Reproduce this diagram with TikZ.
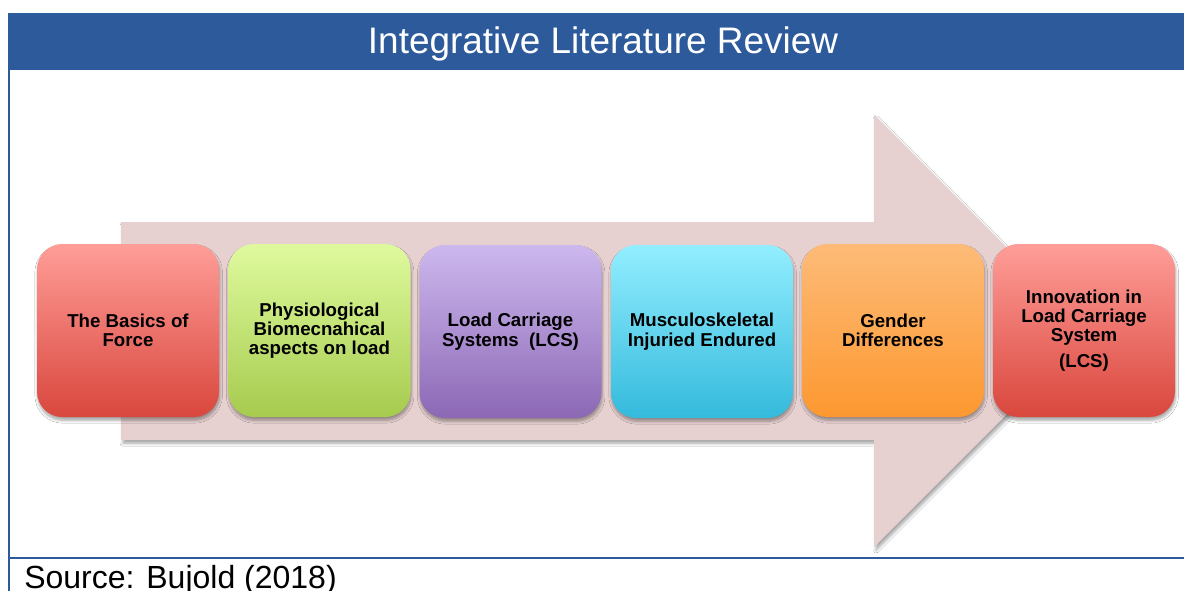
\documentclass[tikz,border=0pt]{standalone}
\usepackage{fontspec}
\setmainfont{Liberation Sans}
\usetikzlibrary{positioning,shadows.blur}
\definecolor{hdrblue}{HTML}{2D5A9B}
\definecolor{bandpink}{HTML}{E6D0D0}
\definecolor{redtop}{HTML}{FF9D98}
\definecolor{redbot}{HTML}{D9473D}
\definecolor{greentop}{HTML}{DFFA9E}
\definecolor{greenbot}{HTML}{A6CB4E}
\definecolor{violettop}{HTML}{CDB8EE}
\definecolor{violetbot}{HTML}{8C68B5}
\definecolor{cyantop}{HTML}{93EEFF}
\definecolor{cyanbot}{HTML}{34BADC}
\definecolor{orangetop}{HTML}{FDBB78}
\definecolor{orangebot}{HTML}{FD9830}

\begin{document}
\begin{tikzpicture}[
    x=0.75pt,y=-0.75pt,
    box/.style={rounded corners=19pt,align=center,minimum width=136.5pt,minimum height=129.75pt,
      font=\fontsize{14}{14.5}\selectfont\bfseries,
      blur shadow={shadow xshift=0.5pt,shadow yshift=-2.5pt,shadow blur steps=6,shadow opacity=35}},
    band/.style={fill=bandpink,
      blur shadow={shadow xshift=1.5pt,shadow yshift=-2.5pt,shadow blur steps=6,shadow opacity=35}},
    frame/.style={draw=hdrblue,line width=1.5pt},
    title/.style={text=white,font=\fontsize{27.7}{30}\selectfont,anchor=base,inner sep=0pt},
    src/.style={font=\fontsize{24}{26}\selectfont,anchor=base west,inner sep=0pt}
  ]
    \useasboundingbox[fill=white] (0,0) rectangle (1184,590);

    \path[band] (121,222) -- (874,222) -- (874,115) -- (1090,331)
      -- (874,547) -- (874,440) -- (121,440) -- cycle;

    \fill[hdrblue] (8,13) rectangle (1184,70);
    \node[title] (head) at (603,53) {Integrative Literature Review};
    \draw[frame] (9,70) -- (9,592);
    \draw[frame] (9,557.5) -- (1186,557.5);

    \node[box,top color=redtop,bottom color=redbot] (force) at (128,330.5) {The Basics of\\Force};
    \node[box,top color=greentop,bottom color=greenbot] (physio) at (319.5,330.5) {Physiological\\Biomecnahical\\aspects on load};
    \node[box,top color=violettop,bottom color=violetbot] (lcs) at (510.5,331.5) {Load Carriage\\Systems\ \ (LCS)};
    \node[box,top color=cyantop,bottom color=cyanbot] (injury) at (702,331.5) {Musculoskeletal\\Injuried Endured};
    \node[box,top color=orangetop,bottom color=orangebot] (gender) at (893,330.5) {Gender\\Differences};
    \node[box,top color=redtop,bottom color=redbot] (innov) at (1084,330.5) {Innovation in\\Load Carriage\\System\\[5pt](LCS)};

    \node[src] (source) at (24,588.5) {Source: Bujold (2018)};
  \end{tikzpicture}
\end{document}
